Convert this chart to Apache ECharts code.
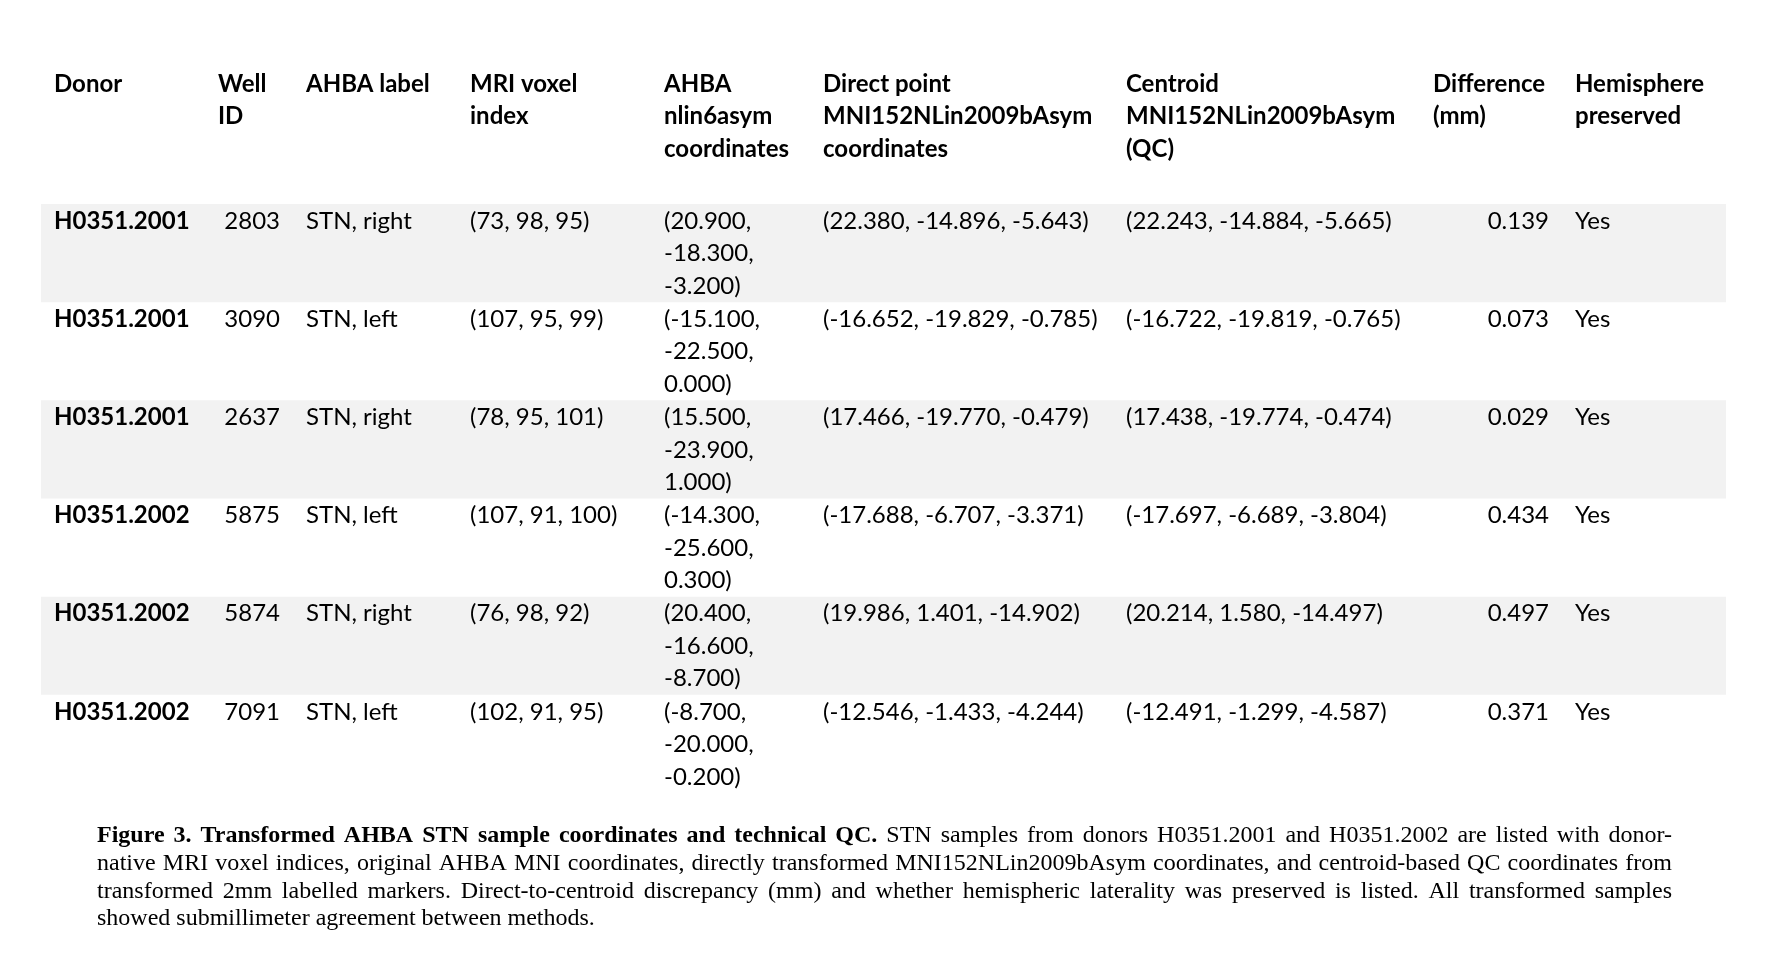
<!DOCTYPE html>
<html>
<head>
<meta charset="utf-8">
<script src="https://cdn.jsdelivr.net/npm/echarts@6/dist/echarts.min.js"></script>
<style>
html,body{margin:0;padding:0;background:#fff;}
#chart{width:1768px;height:958px;}
</style>
</head>
<body>
<div id="chart"></div>
<script>
// ---------------- DATA ----------------
const headers = [
  'Donor',
  'Well\nID',
  'AHBA label',
  'MRI voxel\nindex',
  'AHBA\nnlin6asym\ncoordinates',
  'Direct point\nMNI152NLin2009bAsym\ncoordinates',
  'Centroid\nMNI152NLin2009bAsym\n(QC)',
  'Difference\n(mm)',
  'Hemisphere\npreserved'
];
const donors = ['H0351.2001','H0351.2001','H0351.2001','H0351.2002','H0351.2002','H0351.2002'];
const wellIds = [2803, 3090, 2637, 5875, 5874, 7091];
const ahbaLabels = ['STN, right','STN, left','STN, right','STN, left','STN, right','STN, left'];
const mriVoxel = [[73,98,95],[107,95,99],[78,95,101],[107,91,100],[76,98,92],[102,91,95]];
const ahbaCoords = [[20.9,-18.3,-3.2],[-15.1,-22.5,0.0],[15.5,-23.9,1.0],[-14.3,-25.6,0.3],[20.4,-16.6,-8.7],[-8.7,-20.0,-0.2]];
const directCoords = [[22.380,-14.896,-5.643],[-16.652,-19.829,-0.785],[17.466,-19.770,-0.479],[-17.688,-6.707,-3.371],[19.986,1.401,-14.902],[-12.546,-1.433,-4.244]];
const centroidCoords = [[22.243,-14.884,-5.665],[-16.722,-19.819,-0.765],[17.438,-19.774,-0.474],[-17.697,-6.689,-3.804],[20.214,1.580,-14.497],[-12.491,-1.299,-4.587]];
const differences = [0.139, 0.073, 0.029, 0.434, 0.497, 0.371];
const hemispherePreserved = ['Yes','Yes','Yes','Yes','Yes','Yes'];

const captionBold = 'Figure 3. Transformed AHBA STN sample coordinates and technical QC.';
const captionLines = [
  'Figure 3. Transformed AHBA STN sample coordinates and technical QC. STN samples from donors H0351.2001 and H0351.2002 are listed with donor-',
  'native MRI voxel indices, original AHBA MNI coordinates, directly transformed MNI152NLin2009bAsym coordinates, and centroid-based QC coordinates from',
  'transformed 2mm labelled markers. Direct-to-centroid discrepancy (mm) and whether hemispheric laterality was preserved is listed. All transformed samples',
  'showed submillimeter agreement between methods.'
];

// ---------------- LAYOUT ----------------
const W = 1768, H = 958;
const TABLE_TOP = 204, TABLE_BOTTOM = 793;
const BAND_LEFT = 41, BAND_RIGHT = 1726;
const colX = [54, 280, 306, 470, 664, 823, 1126, 1549, 1575];      // anchor for cell text
const colAlign = ['left','right','left','left','left','left','left','right','left'];
const headerX = [54, 218, 306, 470, 664, 823, 1126, 1433, 1575];
const colWrap = [0, 0, 0, 0, 150, 0, 0, 0, 0];
const HEADER_TOP = 67.7;
const LINE_H = 32.5;
const CELL_FONT = '24px Lato';
const CELL_FONT_BOLD = 'bold 24px Lato';
const CAP_LEFT = 97, CAP_RIGHT = 1672, CAP_BASE0 = 844, CAP_LH = 27.7, CAP_SIZE = 24;

// ---------------- FORMAT ----------------
const fmt3 = a => '(' + a.map(v => v.toFixed(3)).join(', ') + ')';
const fmtInt = a => '(' + a.join(', ') + ')';
const cells = [
  donors,
  wellIds.map(String),
  ahbaLabels,
  mriVoxel.map(fmtInt),
  ahbaCoords.map(fmt3),
  directCoords.map(fmt3),
  centroidCoords.map(fmt3),
  differences.map(v => v.toFixed(3)),
  hemispherePreserved
];
const rowIdx = donors.map((_, i) => i);

// ---------------- SERIES ----------------
const series = [];
series.push({
  type: 'custom',
  name: 'bands',
  silent: true,
  z: 1,
  data: rowIdx.filter(i => i % 2 === 0).map(i => [BAND_LEFT, i]),
  renderItem: function (params, api) {
    const p0 = api.coord([BAND_LEFT, api.value(1)]);
    const p1 = api.coord([BAND_RIGHT, api.value(1)]);
    const h = api.size([0, 1])[1];
    return {
      type: 'rect',
      shape: { x: p0[0], y: p0[1] - h / 2, width: p1[0] - p0[0], height: h },
      style: { fill: '#f2f2f2' }
    };
  }
});
cells.forEach((col, c) => {
  series.push({
    type: 'custom',
    name: 'col' + c,
    silent: true,
    z: 2,
    data: rowIdx.map(i => [colX[c], i]),
    renderItem: function (params, api) {
      const p = api.coord([api.value(0), api.value(1)]);
      const h = api.size([0, 1])[1];
      const style = {
        text: col[params.dataIndex],
        font: c === 0 ? CELL_FONT_BOLD : CELL_FONT,
        fill: '#000',
        align: colAlign[c],
        verticalAlign: 'top',
        lineHeight: LINE_H
      };
      if (colWrap[c]) { style.width = colWrap[c]; style.overflow = 'break'; }
      return { type: 'text', x: p[0], y: p[1] - h / 2 + 0.7, style: style };
    }
  });
});

// ---------------- GRAPHIC (header + caption) ----------------
const graphic = [];
headers.forEach((t, i) => {
  graphic.push({
    type: 'text', x: headerX[i], y: HEADER_TOP, silent: true,
    style: { text: t, font: CELL_FONT_BOLD, fill: '#000', verticalAlign: 'top', lineHeight: LINE_H }
  });
});

const cv = document.createElement('canvas').getContext('2d');
function capFont(bold) { return (bold ? 'bold ' : '') + CAP_SIZE + 'px "Liberation Serif"'; }
function measure(t, bold) { cv.font = capFont(bold); return cv.measureText(t).width; }
const boldWordCount = captionBold.split(' ').length;
captionLines.forEach((line, li) => {
  const words = line.split(' ').map((w, wi) => ({ t: w, b: li === 0 && wi < boldWordCount }));
  words.forEach(w => { w.w = measure(w.t, w.b); });
  const sum = words.reduce((s, w) => s + w.w, 0);
  const last = li === captionLines.length - 1;
  const gap = last ? measure(' ', false) : (CAP_RIGHT - CAP_LEFT - sum) / (words.length - 1);
  let x = CAP_LEFT;
  const y = CAP_BASE0 + li * CAP_LH - 8;
  words.forEach(w => {
    graphic.push({
      type: 'text', x: x, y: y, silent: true,
      style: { text: w.t, font: capFont(w.b), fill: '#000', verticalAlign: 'middle', align: 'left' }
    });
    x += w.w + gap;
  });
});

const chart = echarts.init(document.getElementById('chart'), null, { renderer: 'canvas' });
chart.setOption({
  backgroundColor: '#fff',
  animation: false,
  grid: { left: 0, right: 0, top: TABLE_TOP, bottom: H - TABLE_BOTTOM, containLabel: false },
  xAxis: { type: 'value', min: 0, max: W, show: false },
  yAxis: { type: 'category', data: rowIdx, inverse: true, show: false },
  tooltip: { show: false },
  graphic: graphic,
  series: series
});
</script>
</body>
</html>
